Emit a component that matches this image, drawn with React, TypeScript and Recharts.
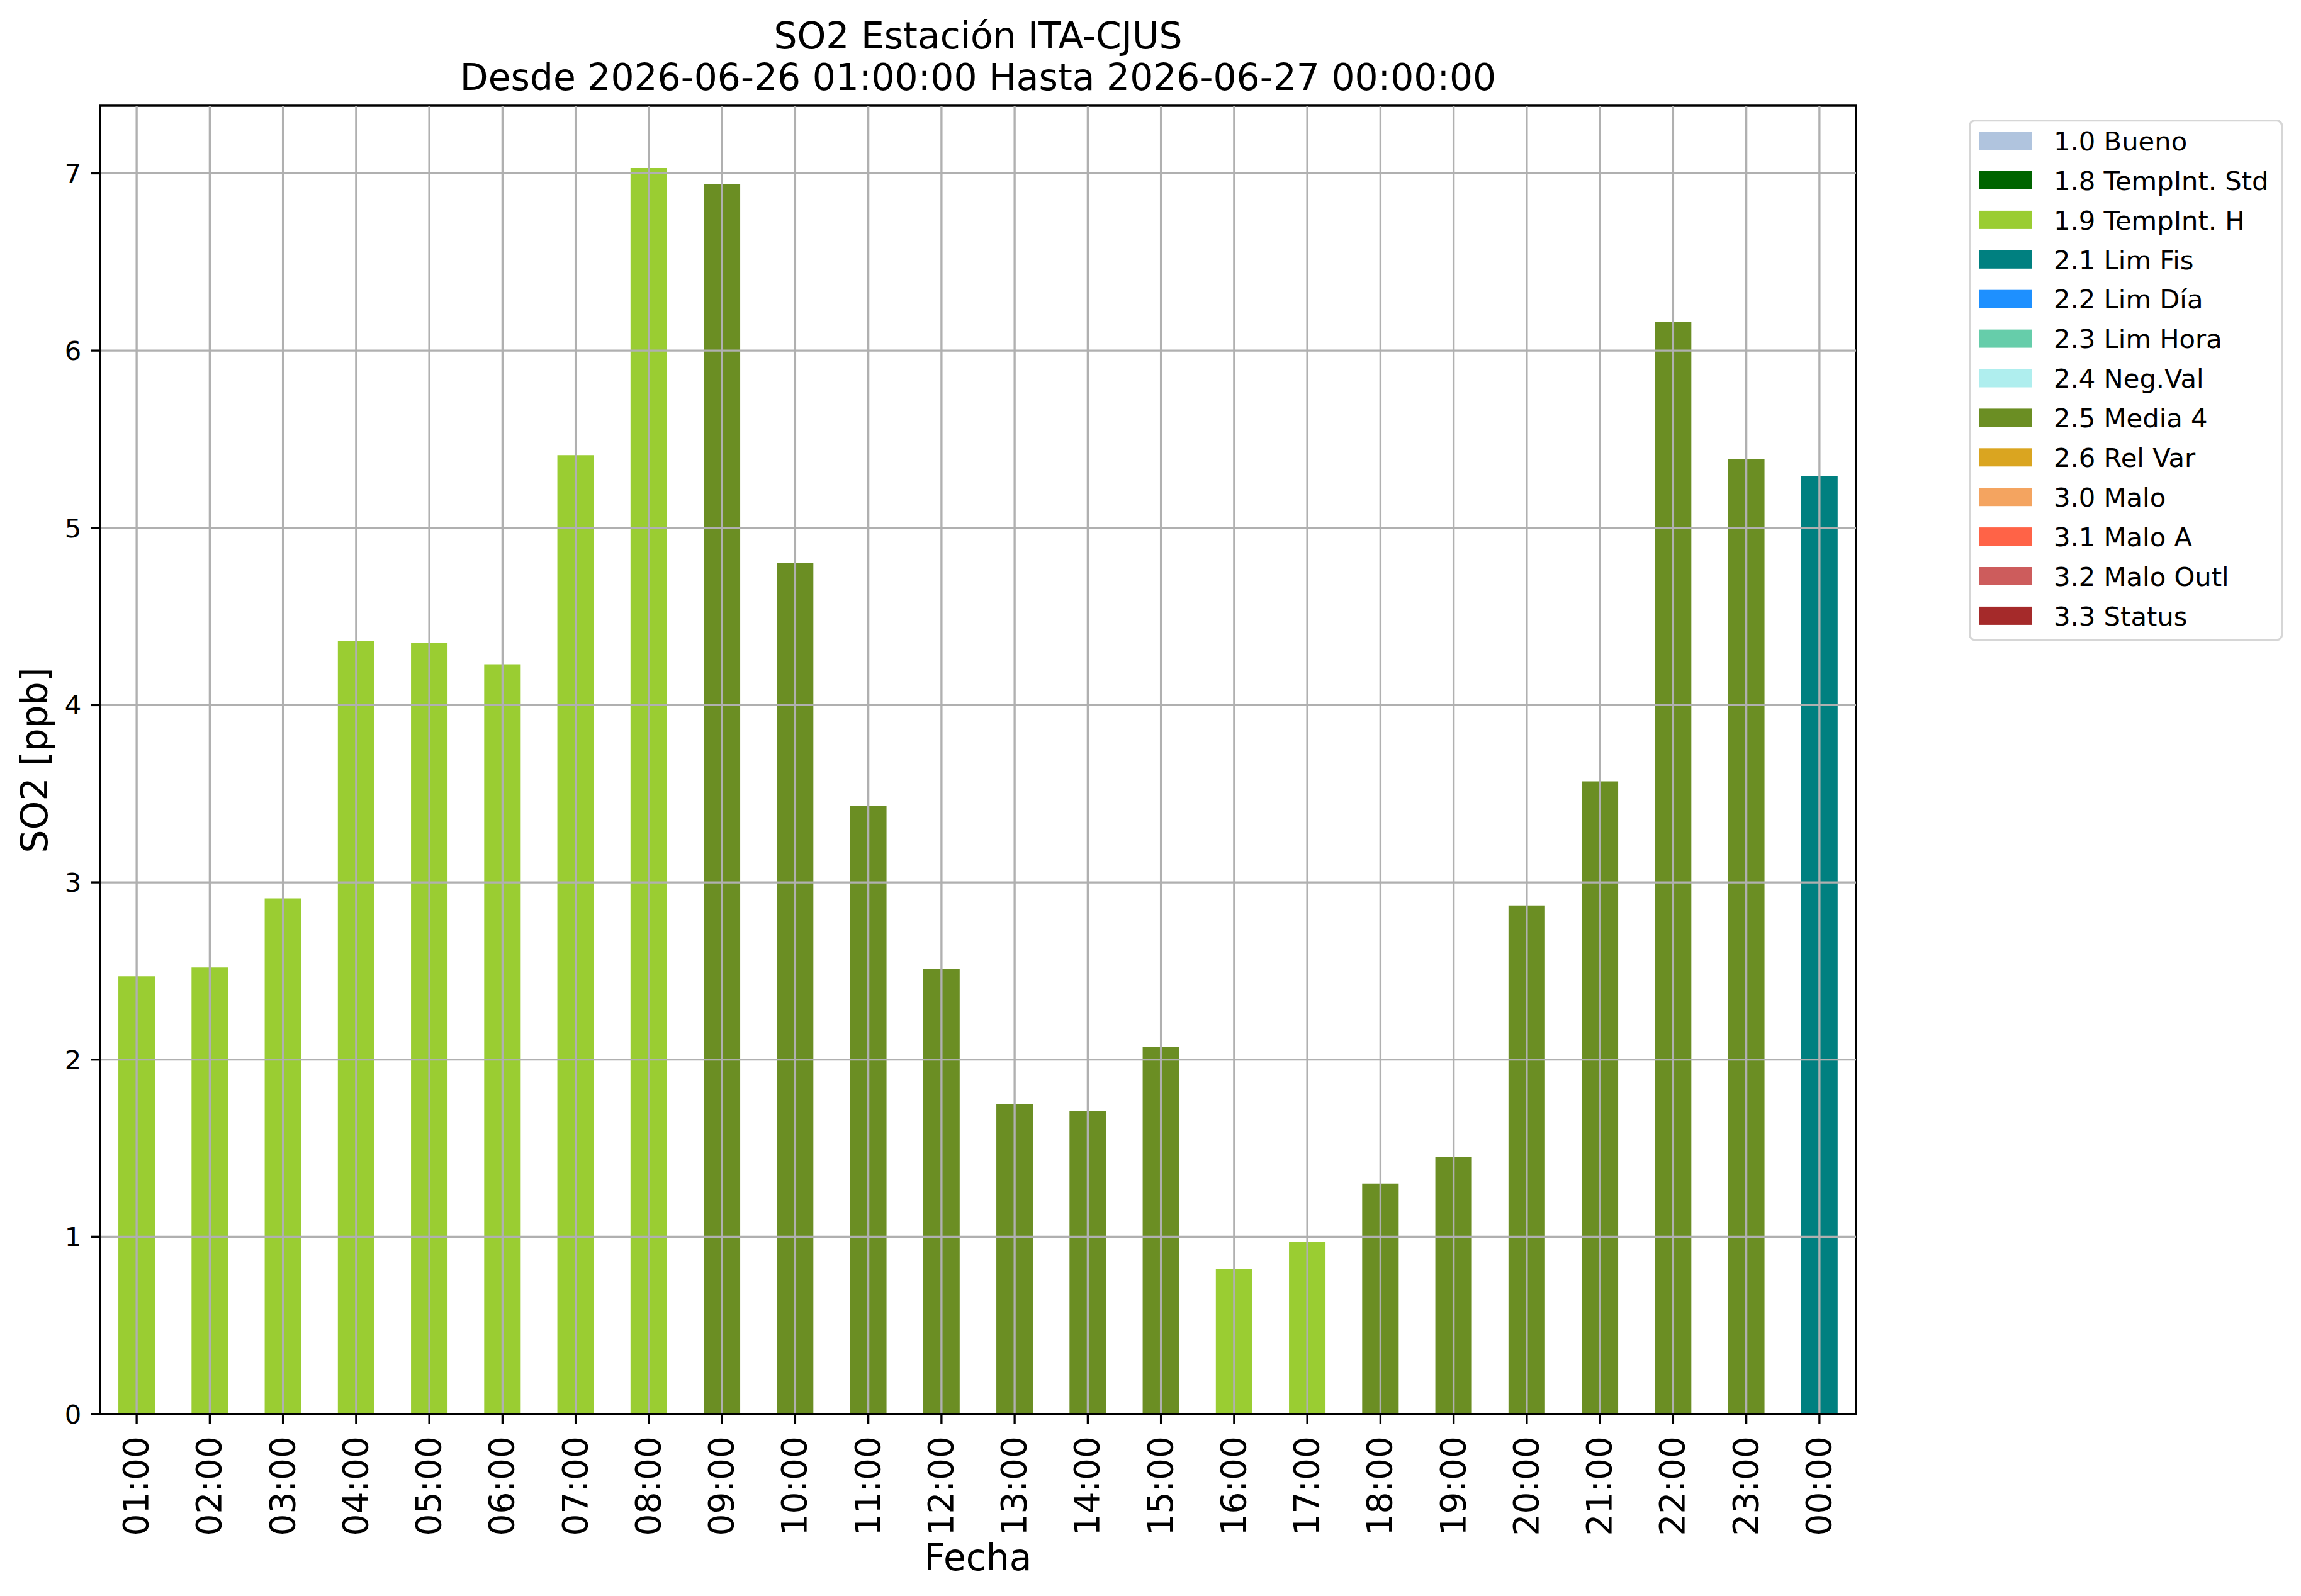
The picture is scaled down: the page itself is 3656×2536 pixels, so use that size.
import React from "react";
import {
  BarChart,
  Bar,
  Cell,
  XAxis,
  YAxis,
  ReferenceLine,
  ReferenceArea,
} from "recharts";

// SO2 hourly values for one day, coloured by validation flag.

const HOURS = [
  "01:00", "02:00", "03:00", "04:00", "05:00", "06:00", "07:00", "08:00",
  "09:00", "10:00", "11:00", "12:00", "13:00", "14:00", "15:00", "16:00",
  "17:00", "18:00", "19:00", "20:00", "21:00", "22:00", "23:00", "00:00",
];

const SO2 = [
  2.47, 2.52, 2.91, 4.36, 4.35, 4.23, 5.41, 7.03,
  6.94, 4.80, 3.43, 2.51, 1.75, 1.71, 2.07, 0.82,
  0.97, 1.30, 1.45, 2.87, 3.57, 6.16, 5.39, 5.29,
];

const HOUR_FLAGS = [
  "1.9", "1.9", "1.9", "1.9", "1.9", "1.9", "1.9", "1.9",
  "2.5", "2.5", "2.5", "2.5", "2.5", "2.5", "2.5", "1.9",
  "1.9", "2.5", "2.5", "2.5", "2.5", "2.5", "2.5", "2.1",
];

const FLAG_CODES = ["1.0", "1.8", "1.9", "2.1", "2.2", "2.3", "2.4", "2.5", "2.6", "3.0", "3.1", "3.2", "3.3"];
const FLAG_NAMES = [
  "Bueno", "TempInt. Std", "TempInt. H", "Lim Fis", "Lim Día", "Lim Hora",
  "Neg.Val", "Media 4", "Rel Var", "Malo", "Malo A", "Malo Outl", "Status",
];
const FLAG_COLORS = [
  "#b0c4de", "#006400", "#9acd32", "#008080", "#1e90ff", "#66cdaa",
  "#afeeee", "#6b8e23", "#daa520", "#f4a460", "#ff6347", "#cd5c5c", "#a52a2a",
];

const Y_TICKS = [0, 1, 2, 3, 4, 5, 6, 7];
const Y_MAX = 7.3815; // matplotlib autoscale: 7.03 * 1.05

const FONT = "'DejaVu Sans', sans-serif";
const W = 3656;
const H = 2536;
const LW = 3.33; // 0.8pt at 300 dpi
const GRID = "#b0b0b0";

const data = HOURS.map((h, i) => ({ hour: h, so2: SO2[i], flag: HOUR_FLAGS[i] }));

const colorOf = (flag: string) => FLAG_COLORS[FLAG_CODES.indexOf(flag)];

const HourTick = ({ x, y, payload }: any) => (
  <text
    x={x}
    y={y}
    dy={18}
    transform={`rotate(-90, ${x}, ${y})`}
    textAnchor="end"
    fontFamily={FONT}
    fontSize={55}
    fill="#000"
  >
    {payload.value}
  </text>
);

const LegendBox = () => (
  <svg width={500} height={830} style={{ position: "absolute", left: 3128, top: 190 }}>
    <rect x={1.7} y={1.7} width={496} height={825} rx={8} fill="#fff" stroke="#d6d6d6" strokeWidth={LW} />
    {FLAG_CODES.map((code, i) => {
      const cy = 33.6 + i * 62.9;
      return (
        <g key={code}>
          <rect x={17} y={cy - 14.5} width={83} height={29} fill={FLAG_COLORS[i]} />
          <text x={135} y={cy + 15.2} fontFamily={FONT} fontSize={41.7} fill="#000">
            {code} {FLAG_NAMES[i]}
          </text>
        </g>
      );
    })}
  </svg>
);

export default function App() {
  return (
    <div style={{ position: "absolute", left: 0, top: 0, width: W, height: H, background: "#fff" }}>
      <BarChart
        width={W}
        height={H}
        data={data}
        margin={{ top: 168, right: 707, bottom: 0, left: 0 }}
        barCategoryGap="25%"
      >
        <XAxis
          dataKey="hour"
          height={289}
          interval={0}
          tickSize={15}
          tickMargin={20}
          tick={<HourTick />}
          axisLine={{ stroke: "#000", strokeWidth: LW }}
          tickLine={{ stroke: "#000", strokeWidth: LW }}
        />
        <YAxis
          width={159}
          domain={[0, Y_MAX]}
          ticks={Y_TICKS}
          interval={0}
          tickSize={15}
          tickMargin={14.6}
          tick={{ fontFamily: FONT, fontSize: 41.7, fill: "#000" }}
          axisLine={{ stroke: "#000", strokeWidth: LW }}
          tickLine={{ stroke: "#000", strokeWidth: LW }}
        />
        <Bar dataKey="so2" isAnimationActive={false}>
          {data.map((d) => (
            <Cell key={d.hour} fill={colorOf(d.flag)} />
          ))}
        </Bar>
        {Y_TICKS.filter((v) => v > 0).map((v) => (
          <ReferenceLine key={`y${v}`} y={v} stroke={GRID} strokeWidth={LW} />
        ))}
        {HOURS.map((h) => (
          <ReferenceLine key={`x${h}`} x={h} stroke={GRID} strokeWidth={LW} />
        ))}
        <ReferenceArea
          y1={0}
          y2={Y_MAX}
          fill="none"
          fillOpacity={0}
          stroke="#000"
          strokeWidth={LW}
          ifOverflow="visible"
        />
        <text x={1554} y={77} textAnchor="middle" fontFamily={FONT} fontSize={58.3} fill="#000">
          SO2 Estación ITA-CJUS
        </text>
        <text x={1554} y={143} textAnchor="middle" fontFamily={FONT} fontSize={58.3} fill="#000">
          Desde 2026-06-26 01:00:00 Hasta 2026-06-27 00:00:00
        </text>
        <text
          x={75}
          y={1208}
          transform="rotate(-90, 75, 1208)"
          textAnchor="middle"
          fontFamily={FONT}
          fontSize={58.3}
          fill="#000"
        >
          SO2 [ppb]
        </text>
        <text x={1554} y={2495} textAnchor="middle" fontFamily={FONT} fontSize={58.3} fill="#000">
          Fecha
        </text>
      </BarChart>
      <LegendBox />
    </div>
  );
}
